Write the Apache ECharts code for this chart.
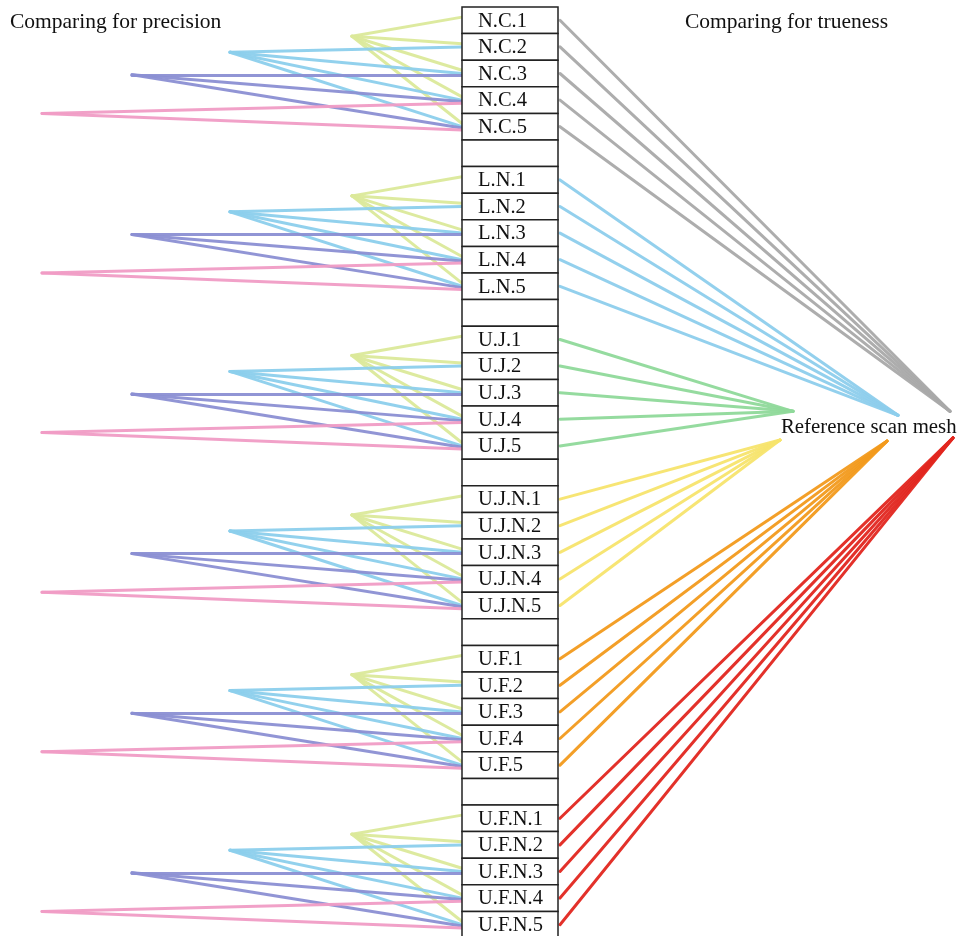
<!DOCTYPE html>
<html>
<head>
<meta charset="utf-8">
<script src="https://cdn.jsdelivr.net/npm/echarts@6/dist/echarts.min.js"></script>
<style>html,body{margin:0;padding:0;background:#fff;}#c{width:959px;height:936px;}</style>
</head>
<body>
<div id="c"></div>
<script>
// ---- data ----
const groups = ['N.C', 'L.N', 'U.J', 'U.J.N', 'U.F', 'U.F.N'];
const itemsPerGroup = 5;
// precision comparisons: level k links item k with items k..5 through an apex
const precisionApexX = [352, 230, 132, 42];
const precisionApexRow = [0.6, 1.2, 2.05, 3.5];
const precisionEndShift = [-0.12, 0.0, 0.05, 0.12];
const precisionColors = ['#dbe99a', '#8ccfec', '#8b8fd3', '#f09cc5'];
// trueness comparisons: every item of a group linked to the reference scan mesh
const truenessTargetX = [950, 898, 793, 780, 887, 953];
const truenessTargetRow = [14.7, 14.85, 14.7, 15.78, 15.82, 15.7];
const truenessColors = ['#a9a9a9', '#8dcdec', '#8fd99a', '#f7e46d', '#f29a1c', '#e2261f'];
const titles = ['Comparing for precision', 'Comparing for trueness', 'Reference scan mesh'];

// ---- build ----
const rows = [];
groups.forEach((g, gi) => {
  for (let i = 0; i < itemsPerGroup; i++) rows.push([gi * 6 + i, g + '.' + (i + 1)]);
  if (gi < groups.length - 1) rows.push([gi * 6 + 5, '']);
});

const boxLeft = 462, boxRight = 558;
const series = [];
precisionColors.forEach((col, k) => {
  const data = [];
  groups.forEach((g, gi) => {
    const base = gi * 6;
    const apex = [precisionApexX[k], base + precisionApexRow[k]];
    for (let j = k; j < itemsPerGroup; j++) {
      data.push({ coords: [apex, [boxLeft, base + j + precisionEndShift[k]]] });
    }
  });
  series.push({
    type: 'lines', coordinateSystem: 'cartesian2d', data: data, z: 2,
    lineStyle: { color: col, width: 3, opacity: 0.95, curveness: 0, cap: 'round' },
    silent: true
  });
});
groups.forEach((g, gi) => {
  const data = [];
  for (let j = 0; j < itemsPerGroup; j++) {
    data.push({ coords: [[boxRight + 2, gi * 6 + j], [truenessTargetX[gi], truenessTargetRow[gi]]] });
  }
  series.push({
    type: 'lines', coordinateSystem: 'cartesian2d', data: data, z: 2,
    lineStyle: { color: truenessColors[gi], width: 3, opacity: 0.95, curveness: 0, cap: 'round' },
    silent: true
  });
});
series.push({
  type: 'custom', coordinateSystem: 'cartesian2d', z: 5, silent: true,
  data: rows,
  renderItem: function (params, api) {
    const r = api.value(0);
    const p1 = api.coord([boxLeft, r - 0.5]);
    const p2 = api.coord([boxRight, r + 0.5]);
    const label = rows[params.dataIndex][1];
    return {
      type: 'group',
      children: [
        { type: 'rect', shape: { x: p1[0], y: p1[1], width: p2[0] - p1[0], height: p2[1] - p1[1] },
          style: { fill: '#fff', stroke: '#222', lineWidth: 1.5 } },
        { type: 'text', style: { x: p1[0] + 16, y: (p1[1] + p2[1]) / 2 + 1, text: label,
          fill: '#111', font: '20.5px "Liberation Serif", "DejaVu Serif", serif',
          textAlign: 'left', textVerticalAlign: 'middle' } }
      ]
    };
  }
});

const chart = echarts.init(document.getElementById('c'));
const font = '"Liberation Serif", "DejaVu Serif", serif';
const tStyle = { fontSize: 21.5, fontWeight: 'normal', color: '#111', fontFamily: font };
const tStyleRef = { fontSize: 20.8, fontWeight: 'normal', color: '#111', fontFamily: font };
chart.setOption({
  animation: false,
  backgroundColor: '#fff',
  title: [
    { text: titles[0], left: 10, top: 11, textStyle: tStyle, padding: 0 },
    { text: titles[1], left: 685, top: 11, textStyle: tStyle, padding: 0 },
    { text: titles[2], left: 781, top: 417, textStyle: tStyleRef, padding: 0, z: 10 }
  ],
  grid: { left: 0, right: 0, top: 0, bottom: 0 },
  xAxis: { type: 'value', min: 0, max: 959, show: false },
  yAxis: { type: 'value', min: -0.763, max: 34.425, inverse: true, show: false },
  series: series
});
</script>
</body>
</html>
